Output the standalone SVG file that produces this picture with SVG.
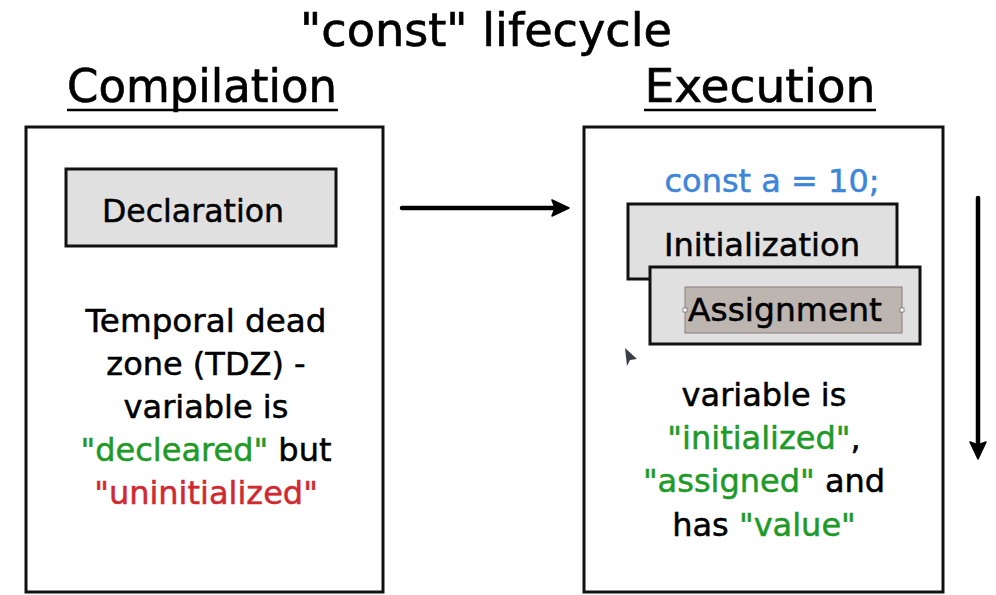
<svg xmlns="http://www.w3.org/2000/svg" width="996" height="595" viewBox="0 0 996 595">
<defs>
<marker id="ah" markerWidth="20" markerHeight="20" refX="4" refY="9" orient="auto" markerUnits="userSpaceOnUse">
<path d="M1,1 L18,9 L1,17 L4,9 Z" fill="#000" stroke="#000" stroke-width="1.5" stroke-linejoin="round"/>
</marker>
</defs>
<style>
text{font-family:"DejaVu Sans","Noto Sans",sans-serif;text-anchor:middle;fill:#000}
.hd{font-family:"DejaVu Sans Condensed","DejaVu Sans",sans-serif;font-size:47px;stroke:#000;stroke-width:0.6}
.body{font-size:32px;stroke-width:0.5;stroke:#000}
.frame{fill:#fff;stroke:#111;stroke-width:3}
.box{fill:#e0e0e0;stroke:#111;stroke-width:3}
.g{fill:#1e9a28;stroke:#1e9a28}
.r{fill:#d02a30;stroke:#d02a30}
.b{fill:#3d85d8;stroke:#3d85d8}
.conn{stroke:#000;stroke-width:4.5;fill:none;stroke-linecap:round}
</style>
<rect width="996" height="595" fill="#fff"/>
<g id="title">
<text class="hd" x="486" y="46" textLength="372" lengthAdjust="spacingAndGlyphs">"const" lifecycle</text>
</g>
<g id="compilation-heading">
<text class="hd" x="202" y="102" textLength="270" lengthAdjust="spacingAndGlyphs">Compilation</text>
<line x1="67" y1="110" x2="338" y2="110" stroke="#000" stroke-width="2.5"/>
</g>
<g id="execution-heading">
<text class="hd" x="760" y="102" textLength="231" lengthAdjust="spacingAndGlyphs">Execution</text>
<line x1="644" y1="110" x2="876" y2="110" stroke="#000" stroke-width="2.5"/>
</g>
<g id="compilation">
<rect class="frame" x="26" y="127" width="357" height="465"/>
</g>
<g id="declaration">
<rect class="box" x="66" y="169" width="270" height="77"/>
<text class="body" x="193" y="222" textLength="182" lengthAdjust="spacingAndGlyphs">Declaration</text>
</g>
<g id="tdz-text">
<text class="body" x="206" y="332" textLength="241" lengthAdjust="spacingAndGlyphs">Temporal dead</text>
<text class="body" x="206" y="375">zone (TDZ) -</text>
<text class="body" x="206" y="418">variable is</text>
<text class="body" x="206" y="461"><tspan class="g">"decleared"</tspan> but</text>
<text class="body r" x="206" y="504">"uninitialized"</text>
</g>
<g id="execution">
<rect class="frame" x="584" y="127" width="359" height="465"/>
<text class="body b" x="772" y="192" textLength="215" lengthAdjust="spacingAndGlyphs">const a = 10;</text>
</g>
<g id="initialization">
<rect class="box" x="628" y="204" width="269" height="75"/>
<text class="body" x="762" y="256" textLength="196" lengthAdjust="spacingAndGlyphs">Initialization</text>
</g>
<g id="assignment">
<rect class="box" x="650" y="267" width="270" height="77"/>
<rect x="685" y="287" width="217" height="46" fill="#bdb5b0" stroke="#8a7f7a" stroke-width="1"/>
<rect x="683" y="308" width="4" height="4" fill="#fff" stroke="#777" stroke-width="0.8"/>
<rect x="900" y="308" width="4" height="4" fill="#fff" stroke="#777" stroke-width="0.8"/>
<text class="body" x="785" y="321" textLength="194" lengthAdjust="spacingAndGlyphs">Assignment</text>
</g>
<g id="cursor">
<path d="M625,348 L637,359 L630,360 L627,366 Z" fill="#3a3f45"/>
</g>
<g id="exec-text">
<text class="body" x="764" y="406">variable is</text>
<text class="body" x="764" y="449"><tspan class="g">"initialized"</tspan>,</text>
<text class="body" x="764" y="492"><tspan class="g">"assigned"</tspan> and</text>
<text class="body" x="764" y="536">has <tspan class="g">"value"</tspan></text>
</g>
<g id="connectors">
<line class="conn" x1="402" y1="208" x2="555" y2="208" marker-end="url(#ah)"/>
<line class="conn" x1="978" y1="198" x2="978" y2="445" marker-end="url(#ah)"/>
</g>
</svg>
